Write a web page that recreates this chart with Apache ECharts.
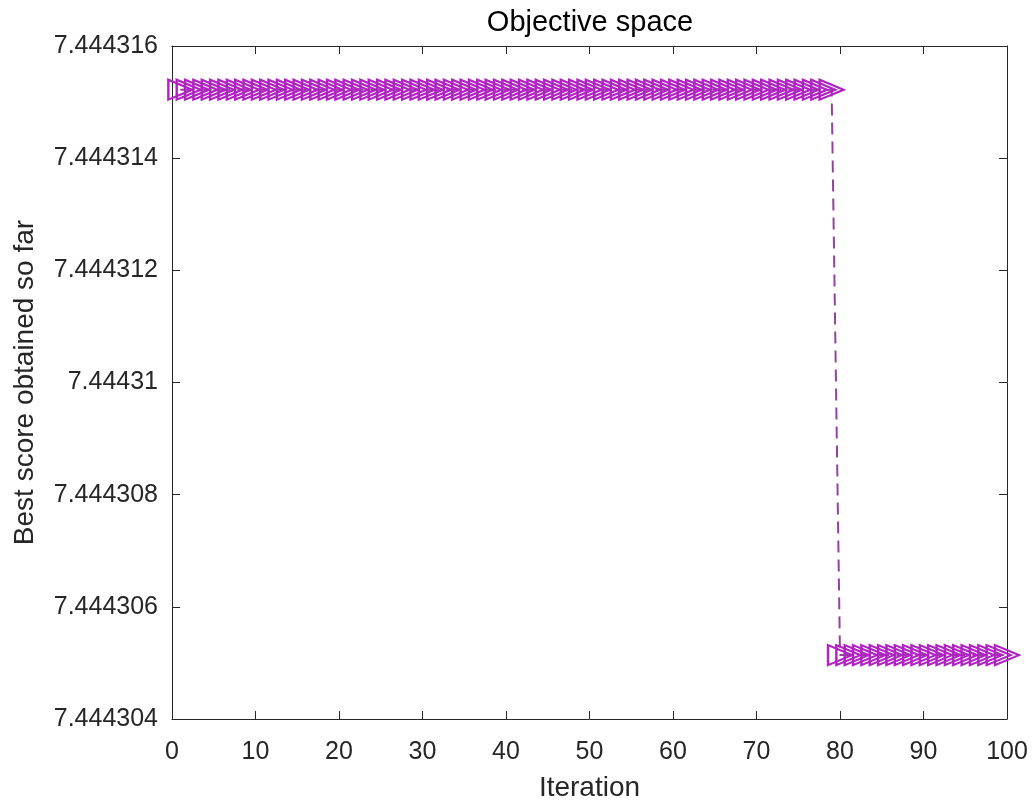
<!DOCTYPE html>
<html><head><meta charset="utf-8">
<script src="https://cdn.jsdelivr.net/npm/echarts@6/dist/echarts.min.js"></script>
<style>html,body{margin:0;padding:0;background:#fff}#c{width:1032px;height:807px}</style>
</head><body><div id="c"></div>
<script>
// Data
const iterations = Array.from({length: 100}, (_, i) => i + 1);
const bestScores = [
  7.44431522,7.44431522,7.44431522,7.44431522,7.44431522,7.44431522,7.44431522,7.44431522,7.44431522,7.44431522,
  7.44431522,7.44431522,7.44431522,7.44431522,7.44431522,7.44431522,7.44431522,7.44431522,7.44431522,7.44431522,
  7.44431522,7.44431522,7.44431522,7.44431522,7.44431522,7.44431522,7.44431522,7.44431522,7.44431522,7.44431522,
  7.44431522,7.44431522,7.44431522,7.44431522,7.44431522,7.44431522,7.44431522,7.44431522,7.44431522,7.44431522,
  7.44431522,7.44431522,7.44431522,7.44431522,7.44431522,7.44431522,7.44431522,7.44431522,7.44431522,7.44431522,
  7.44431522,7.44431522,7.44431522,7.44431522,7.44431522,7.44431522,7.44431522,7.44431522,7.44431522,7.44431522,
  7.44431522,7.44431522,7.44431522,7.44431522,7.44431522,7.44431522,7.44431522,7.44431522,7.44431522,7.44431522,
  7.44431522,7.44431522,7.44431522,7.44431522,7.44431522,7.44431522,7.44431522,7.44431522,7.44431522,
  7.44430514,7.44430514,7.44430514,7.44430514,7.44430514,7.44430514,7.44430514,7.44430514,7.44430514,7.44430514,
  7.44430514,7.44430514,7.44430514,7.44430514,7.44430514,7.44430514,7.44430514,7.44430514,7.44430514,7.44430514,
  7.44430514
];
const yTickLabels = ['7.444304','7.444306','7.444308','7.44431','7.444312','7.444314','7.444316'];
const yMin = 7.444304, yMax = 7.444316, yStep = 0.000002;

const font = 'Liberation Sans, Arial, sans-serif';
const axisColor = '#262626';
const chart = echarts.init(document.getElementById('c'), null, {renderer: 'canvas'});
const yFmt = v => yTickLabels[Math.round((v - yMin) / yStep)] || '';
const tickInside = {show: true, inside: true, length: 8, lineStyle: {color: axisColor, width: 1}};
chart.setOption({
  animation: false,
  backgroundColor: '#fff',
  title: {
    text: 'Objective space', left: 585, top: 3, textAlign: 'center',
    textStyle: {fontFamily: font, fontSize: 29, fontWeight: 'normal', color: '#000'}
  },
  grid: {left: 172, right: 25, top: 46, bottom: 85, containLabel: false},
  xAxis: [{
    type: 'value', min: 0, max: 100, interval: 10, position: 'bottom',
    name: 'Iteration', nameLocation: 'middle', nameGap: 55,
    nameTextStyle: {fontFamily: font, fontSize: 28, color: '#262626'},
    axisLine: {show: true, onZero: false, lineStyle: {color: axisColor, width: 1}},
    axisTick: tickInside,
    axisLabel: {fontFamily: font, fontSize: 25, color: '#262626', margin: 21},
    splitLine: {show: false}
  }, {
    type: 'value', min: 0, max: 100, interval: 10, position: 'top',
    axisLine: {show: true, onZero: false, lineStyle: {color: axisColor, width: 1}},
    axisTick: tickInside, axisLabel: {show: false}, splitLine: {show: false}
  }],
  yAxis: [{
    type: 'value', min: yMin, max: yMax, interval: yStep, position: 'left',
    name: 'Best score obtained so far', nameLocation: 'middle', nameGap: 133, nameRotate: 90,
    nameTextStyle: {fontFamily: font, fontSize: 28, color: '#262626'},
    axisLine: {show: true, onZero: false, lineStyle: {color: axisColor, width: 1}},
    axisTick: tickInside,
    axisLabel: {fontFamily: font, fontSize: 25, color: '#262626', margin: 14, formatter: yFmt},
    splitLine: {show: false}
  }, {
    type: 'value', min: yMin, max: yMax, interval: yStep, position: 'right',
    axisLine: {show: true, onZero: false, lineStyle: {color: axisColor, width: 1}},
    axisTick: tickInside, axisLabel: {show: false}, splitLine: {show: false}
  }],
  series: [{
    type: 'line',
    data: iterations.map((it, i) => [it, bestScores[i]]),
    xAxisIndex: 0, yAxisIndex: 0,
    clip: false,
    lineStyle: {color: '#93429f', width: 2, type: [12, 7]},
    symbol: 'triangle', symbolRotate: -90, symbolSize: [20, 24],
    showAllSymbol: true,
    itemStyle: {color: 'rgba(255,255,255,0)', borderColor: '#b022c2', borderWidth: 2.2},
    z: 3
  }]
});
</script></body></html>
